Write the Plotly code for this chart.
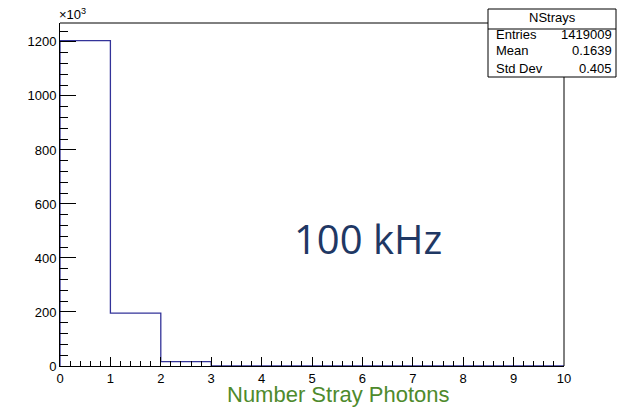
import plotly.graph_objects as go

# Histogram data (counts in units of 10^3)
bin_edges = [0, 1, 2, 3, 4, 5, 6, 7, 8, 9, 10]
counts_k = [1205, 196, 16, 0.3, 0, 0, 0, 0, 0, 0]

x_tick_vals = [0, 1, 2, 3, 4, 5, 6, 7, 8, 9, 10]
y_tick_vals = [0, 200, 400, 600, 800, 1000, 1200]

stats_title = "NStrays"
stats_labels = ["Entries", "Mean", "Std Dev"]
stats_values = ["1419009", "0.1639", "0.405"]

x_title = "Number Stray Photons"
note_text = "100 kHz"

W, H = 633, 408
L, R, T, B = 60, 564, 23, 366  # plot area pixels


def px(xp):
    return (xp - L) / (R - L)


def py(yp):
    return (B - yp) / (B - T)


# step outline like ROOT histogram
xs = [bin_edges[0]] + bin_edges
ys = [0] + counts_k + [counts_k[-1]]

fig = go.Figure()
fig.add_trace(go.Scatter(
    x=xs, y=ys, mode="lines", line=dict(color="#333399", width=1.3, shape="hv"),
    hoverinfo="skip", showlegend=False,
))

font_ax = dict(family="Liberation Sans, Arial, sans-serif", size=13, color="black")

fig.update_layout(
    width=W, height=H,
    margin=dict(l=L, r=W - R, t=T, b=H - B),
    paper_bgcolor="white", plot_bgcolor="white",
    xaxis=dict(
        range=[0, 10], tickvals=x_tick_vals, ticks="inside", ticklen=9, tickwidth=1,
        tickcolor="black", showline=True, linecolor="black", linewidth=1,
        showgrid=False, zeroline=False, tickfont=font_ax,
        minor=dict(dtick=0.2, ticks="inside", ticklen=5, tickcolor="black", showgrid=False),
    ),
    yaxis=dict(
        range=[0, 1270], tickvals=y_tick_vals, ticks="inside", ticklen=16, tickwidth=1,
        tickcolor="black", showline=True, linecolor="black", linewidth=1,
        showgrid=False, zeroline=False, tickfont=font_ax,
        minor=dict(dtick=40, ticks="inside", ticklen=8, tickcolor="black", showgrid=False),
    ),
)

shapes = []
# top frame (up to stats box) and right frame (below stats box)
shapes.append(dict(type="line", xref="paper", yref="paper", x0=0, x1=px(488), y0=1, y1=1,
                   line=dict(color="black", width=1)))
shapes.append(dict(type="line", xref="paper", yref="paper", x0=1, x1=1, y0=0, y1=py(77),
                   line=dict(color="black", width=1)))
# stats box
shapes.append(dict(type="rect", xref="paper", yref="paper", x0=px(488), x1=px(616),
                   y0=py(77), y1=py(9), line=dict(color="black", width=1), fillcolor="white",
                   layer="above"))
shapes.append(dict(type="line", xref="paper", yref="paper", x0=px(488), x1=px(616),
                   y0=py(29), y1=py(29), line=dict(color="black", width=1), layer="above"))
fig.update_layout(shapes=shapes)

ann = []
stat_font = dict(family="Liberation Sans, Arial, sans-serif", size=13, color="black")
ann.append(dict(text=stats_title, xref="paper", yref="paper", x=px(552), y=py(18),
                xanchor="center", yanchor="middle", showarrow=False, font=stat_font))
row_y = [35, 51, 68]
for lab, val, yy in zip(stats_labels, stats_values, row_y):
    ann.append(dict(text=lab, xref="paper", yref="paper", x=px(494), y=py(yy),
                    xanchor="left", yanchor="middle", showarrow=False, font=stat_font))
    ann.append(dict(text=val, xref="paper", yref="paper", x=px(614), y=py(yy),
                    xanchor="right", yanchor="middle", showarrow=False, font=stat_font))
# exponent label
ann.append(dict(text="×10<sup>3</sup>", xref="paper", yref="paper", x=px(57), y=py(14),
                xanchor="left", yanchor="middle", showarrow=False,
                font=dict(family="Liberation Sans, Arial, sans-serif", size=13, color="black")))
# axis title
ann.append(dict(text=x_title, xref="paper", yref="paper", x=px(338), y=py(394),
                xanchor="center", yanchor="middle", showarrow=False,
                font=dict(family="Liberation Sans, Arial, sans-serif", size=22, color="#4e8a2c")))
# big note
ann.append(dict(text=note_text, xref="paper", yref="paper", x=px(368), y=py(238),
                xanchor="center", yanchor="middle", showarrow=False,
                font=dict(family="Open Sans, sans-serif", size=40, color="#1f3864")))
fig.update_layout(annotations=ann)

fig.write_html("out.html")
